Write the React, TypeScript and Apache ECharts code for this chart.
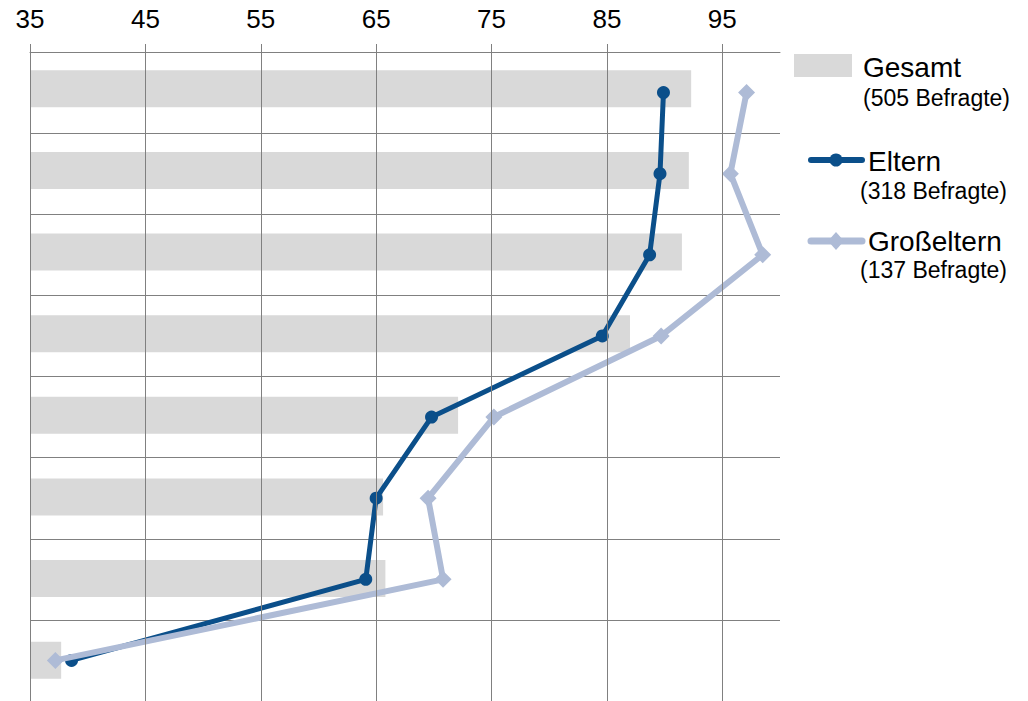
import React, { useEffect, useRef } from "react";
import * as echarts from "echarts";

const categories = ["A", "B", "C", "D", "E", "F", "G", "H"];
const gesamt = [92.3, 92.1, 91.5, 87.0, 72.1, 65.6, 65.8, 37.7];
const eltern = [89.9, 89.6, 88.7, 84.6, 69.8, 65.0, 64.1, 38.6];
const grosseltern = [97.1, 95.7, 98.5, 89.7, 75.2, 69.5, 70.8, 37.2];
const xTicks = [35, 45, 55, 65, 75, 85, 95];

const DARK = "#0b4f8a";
const LIGHT = "#aebbd6";
const BAR = "#d9d9d9";
const GRID = "#808080";
const FONT = "'Liberation Sans', Arial, sans-serif";

export default function App() {
  const ref = useRef<HTMLDivElement>(null);
  useEffect(() => {
    document.body.style.margin = "0";
    const chart = echarts.init(ref.current!, null, { renderer: "svg" });
    chart.setOption({
      animation: false,
      grid: [
        { left: 30, top: 52, width: 750, height: 650 },
        { left: 30, top: 48, width: 750, height: 655 },
      ],
      xAxis: [
        {
          type: "value",
          gridIndex: 0,
          position: "top",
          min: 35,
          max: 100,
          interval: 10,
          axisLine: { show: true, lineStyle: { color: GRID, width: 1 } },
          axisTick: { show: true, length: 8, customValues: xTicks, lineStyle: { color: GRID } },
          axisLabel: {
            customValues: xTicks,
            color: "#000",
            fontSize: 26,
            fontFamily: FONT,
            margin: 20,
          },
          splitLine: { show: true, lineStyle: { color: GRID, width: 1 } },
          z: 5,
        },
        {
          type: "value",
          gridIndex: 1,
          min: 35,
          max: 100,
          show: false,
        },
      ],
      yAxis: [
        {
          type: "category",
          gridIndex: 0,
          inverse: true,
          data: categories,
          axisLine: { show: true, lineStyle: { color: GRID } },
          axisTick: { show: false },
          axisLabel: { show: false },
          splitLine: { show: true, lineStyle: { color: GRID, width: 1 } },
        },
        {
          type: "category",
          gridIndex: 1,
          inverse: true,
          data: categories,
          show: false,
        },
      ],
      series: [
        {
          name: "Gesamt",
          type: "bar",
          xAxisIndex: 1,
          yAxisIndex: 1,
          data: gesamt,
          barWidth: 37,
          itemStyle: { color: BAR },
          z: 1,
        },
        {
          name: "Eltern",
          type: "line",
          data: eltern,
          symbol: "circle",
          symbolSize: 13,
          lineStyle: { color: DARK, width: 5 },
          itemStyle: { color: DARK },
          z: 3,
        },
        {
          name: "Großeltern",
          type: "line",
          data: grosseltern,
          symbol: "diamond",
          symbolSize: 17,
          lineStyle: { color: LIGHT, width: 6 },
          itemStyle: { color: LIGHT },
          z: 4,
        },
      ],
      graphic: [
        { type: "rect", shape: { x: 794, y: 54, width: 58, height: 23 }, style: { fill: BAR } },
        { type: "text", x: 863, y: 67, style: { text: "Gesamt", font: `28px ${FONT}`, fill: "#000", verticalAlign: "middle" } },
        { type: "text", x: 863, y: 98, style: { text: "(505 Befragte)", font: `23px ${FONT}`, fill: "#000", verticalAlign: "middle" } },
        { type: "line", shape: { x1: 811, y1: 160, x2: 862, y2: 160 }, style: { stroke: DARK, lineWidth: 6, lineCap: "round" } },
        { type: "circle", shape: { cx: 836, cy: 160, r: 6.5 }, style: { fill: DARK } },
        { type: "text", x: 868, y: 161, style: { text: "Eltern", font: `28px ${FONT}`, fill: "#000", verticalAlign: "middle" } },
        { type: "text", x: 860, y: 191, style: { text: "(318 Befragte)", font: `23px ${FONT}`, fill: "#000", verticalAlign: "middle" } },
        { type: "line", shape: { x1: 811, y1: 241, x2: 862, y2: 241 }, style: { stroke: LIGHT, lineWidth: 7, lineCap: "round" } },
        { type: "polygon", shape: { points: [[836, 232], [844, 241], [836, 250], [828, 241]] }, style: { fill: LIGHT } },
        { type: "text", x: 868, y: 241, style: { text: "Großeltern", font: `28px ${FONT}`, fill: "#000", verticalAlign: "middle" } },
        { type: "text", x: 860, y: 270, style: { text: "(137 Befragte)", font: `23px ${FONT}`, fill: "#000", verticalAlign: "middle" } },
      ],
    });
    return () => chart.dispose();
  }, []);
  return <div ref={ref} style={{ width: 1028, height: 701 }} />;
}
